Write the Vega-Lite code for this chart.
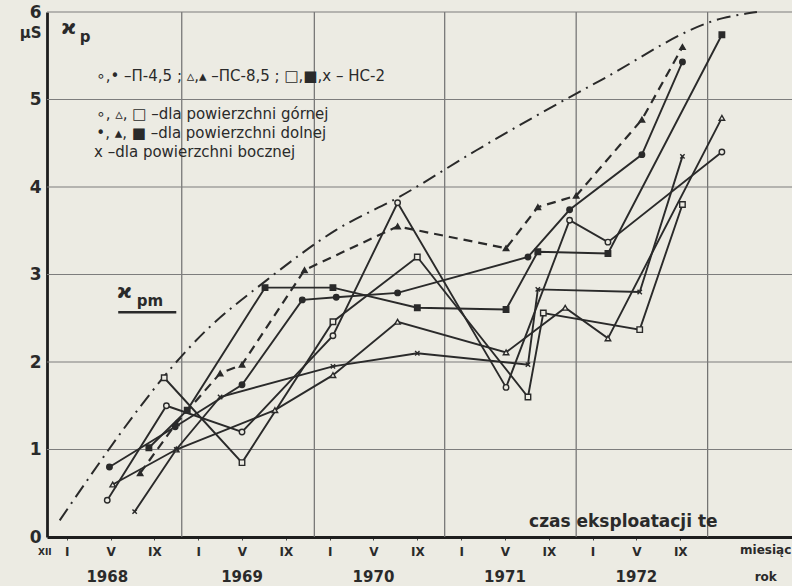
{
  "$schema": "https://vega.github.io/schema/vega-lite/v6.json",
  "width": 745,
  "height": 525,
  "autosize": "none",
  "padding": {"left": 47, "top": 12, "right": 0, "bottom": 49},
  "background": "#ecebe3",
  "config": {"view": {"stroke": null}, "font": "DejaVu Sans"},
  "datasets": {
    "series": [
      {"s": "o", "m": 3.7, "v": 0.42}, {"s": "o", "m": 9.1, "v": 1.5}, {"s": "o", "m": 16, "v": 1.2}, {"s": "o", "m": 24.3, "v": 2.3}, {"s": "o", "m": 30.2, "v": 3.82}, {"s": "o", "m": 40.1, "v": 1.71}, {"s": "o", "m": 45.9, "v": 3.62}, {"s": "o", "m": 49.4, "v": 3.37}, {"s": "o", "m": 59.8, "v": 4.4},
      {"s": "of", "m": 3.9, "v": 0.8}, {"s": "of", "m": 9.9, "v": 1.26}, {"s": "of", "m": 16, "v": 1.74}, {"s": "of", "m": 21.5, "v": 2.71}, {"s": "of", "m": 24.6, "v": 2.74}, {"s": "of", "m": 30.2, "v": 2.79}, {"s": "of", "m": 42.1, "v": 3.2}, {"s": "of", "m": 45.9, "v": 3.74}, {"s": "of", "m": 52.5, "v": 4.37}, {"s": "of", "m": 56.2, "v": 5.43},
      {"s": "t", "m": 4.2, "v": 0.6}, {"s": "t", "m": 10, "v": 1.0}, {"s": "t", "m": 19, "v": 1.45}, {"s": "t", "m": 24.3, "v": 1.85}, {"s": "t", "m": 30.2, "v": 2.46}, {"s": "t", "m": 40.1, "v": 2.11}, {"s": "t", "m": 45.5, "v": 2.62}, {"s": "t", "m": 49.4, "v": 2.27}, {"s": "t", "m": 59.8, "v": 4.79},
      {"s": "tf", "m": 6.7, "v": 0.73}, {"s": "tf", "m": 10, "v": 1.3}, {"s": "tf", "m": 14, "v": 1.87}, {"s": "tf", "m": 16, "v": 1.97}, {"s": "tf", "m": 21.7, "v": 3.05}, {"s": "tf", "m": 30.2, "v": 3.55}, {"s": "tf", "m": 40.1, "v": 3.3}, {"s": "tf", "m": 43, "v": 3.77}, {"s": "tf", "m": 46.5, "v": 3.9}, {"s": "tf", "m": 52.5, "v": 4.77}, {"s": "tf", "m": 56.2, "v": 5.6},
      {"s": "q", "m": 8.9, "v": 1.82}, {"s": "q", "m": 16, "v": 0.85}, {"s": "q", "m": 24.3, "v": 2.46}, {"s": "q", "m": 32, "v": 3.2}, {"s": "q", "m": 42.1, "v": 1.6}, {"s": "q", "m": 43.5, "v": 2.56}, {"s": "q", "m": 52.3, "v": 2.37}, {"s": "q", "m": 56.2, "v": 3.8},
      {"s": "qf", "m": 7.5, "v": 1.02}, {"s": "qf", "m": 11, "v": 1.45}, {"s": "qf", "m": 18.1, "v": 2.85}, {"s": "qf", "m": 24.3, "v": 2.85}, {"s": "qf", "m": 32, "v": 2.62}, {"s": "qf", "m": 40.1, "v": 2.6}, {"s": "qf", "m": 43, "v": 3.26}, {"s": "qf", "m": 49.4, "v": 3.24}, {"s": "qf", "m": 59.8, "v": 5.74},
      {"s": "x", "m": 6.2, "v": 0.29}, {"s": "x", "m": 10, "v": 1.0}, {"s": "x", "m": 14, "v": 1.6}, {"s": "x", "m": 24.3, "v": 1.95}, {"s": "x", "m": 32, "v": 2.1}, {"s": "x", "m": 42.1, "v": 1.97}, {"s": "x", "m": 43, "v": 2.83}, {"s": "x", "m": 52.3, "v": 2.8}, {"s": "x", "m": 56.2, "v": 4.35}
    ],
    "env": [
      {"m": -0.64, "v": 0.19}, {"m": 12.8, "v": 2.37}, {"m": 18.2, "v": 2.93}, {"m": 24.6, "v": 3.51}, {"m": 30.4, "v": 3.89}, {"m": 37.4, "v": 4.42}, {"m": 48.6, "v": 5.21}, {"m": 59.9, "v": 5.93}, {"m": 63, "v": 6.0}
    ],
    "vgrid": [{"m": 10.5}, {"m": 22.6}, {"m": 34.5}, {"m": 46.5}, {"m": 58.5}],
    "hgrid": [{"v": 1}, {"v": 2}, {"v": 3}, {"v": 4}, {"v": 5}, {"v": 6}],
    "legend": [
      {"m": 2.7, "v": 5.27, "t": "∘,• –П-4,5 ;  ▵,▴ –ПС-8,5 ;  □,■,x – НС-2"},
      {"m": 2.7, "v": 4.84, "t": "∘, ▵, □  –dla powierzchni górnej"},
      {"m": 2.7, "v": 4.62, "t": "•, ▴, ■  –dla powierzchni dolnej"},
      {"m": 2.5, "v": 4.40, "t": "x –dla powierzchni bocznej"}
    ],
    "years": [
      {"m": 3.7, "t": "1968"}, {"m": 16, "t": "1969"}, {"m": 28, "t": "1970"}, {"m": 40, "t": "1971"}, {"m": 52, "t": "1972"}
    ]
  },
  "layer": [
    {
      "data": {"name": "vgrid"},
      "mark": {"type": "rule", "color": "#6f6f6f", "strokeWidth": 1.2},
      "encoding": {"x": {"field": "m", "type": "quantitative", "scale": {"domain": [-1.8, 66.2], "nice": false, "zero": false},
        "axis": {"values": [0, 4, 8, 12, 16, 20, 24, 28, 32, 36, 40, 44, 48, 52, 56], "labelExpr": "datum.value % 12 == 0 ? 'I' : (datum.value % 12 == 4 ? 'V' : 'IX')", "title": null, "grid": false, "domainColor": "#1e1e1e", "domainWidth": 2.8, "tickColor": "#444", "tickSize": 3, "labelFontSize": 12, "labelFontWeight": "bold", "labelColor": "#2a2a2a", "labelPadding": 6}}}
    },
    {
      "data": {"name": "hgrid"},
      "mark": {"type": "rule", "color": "#7d7d7d", "strokeWidth": 1.2},
      "encoding": {"y": {"field": "v", "type": "quantitative", "scale": {"domain": [0, 6], "nice": false},
        "axis": {"values": [0, 1, 2, 3, 4, 5, 6], "format": "d", "title": null, "grid": false, "ticks": false, "domainColor": "#1e1e1e", "domainWidth": 2.8, "labelFontSize": 17, "labelFontWeight": "bold", "labelColor": "#2a2a2a", "labelPadding": 6}}}
    },
    {
      "data": {"name": "env"},
      "mark": {"type": "line", "color": "#2a2a2a", "strokeWidth": 2, "strokeDash": [14, 6, 2, 6], "interpolate": "monotone"},
      "encoding": {"x": {"field": "m", "type": "quantitative"}, "y": {"field": "v", "type": "quantitative"}}
    },
    {
      "data": {"name": "series"},
      "transform": [{"filter": "datum.s != 'tf'"}],
      "mark": {"type": "line", "color": "#2a2a2a", "strokeWidth": 1.9},
      "encoding": {"x": {"field": "m", "type": "quantitative"}, "y": {"field": "v", "type": "quantitative"}, "detail": {"field": "s"}}
    },
    {
      "data": {"name": "series"},
      "transform": [{"filter": "datum.s == 'tf'"}],
      "mark": {"type": "line", "color": "#2a2a2a", "strokeWidth": 2.2, "strokeDash": [9, 6]},
      "encoding": {"x": {"field": "m", "type": "quantitative"}, "y": {"field": "v", "type": "quantitative"}, "detail": {"field": "s"}}
    },
    {
      "data": {"name": "series"},
      "mark": {"type": "point", "size": 30, "strokeWidth": 1.4, "stroke": "#2a2a2a", "opacity": 1},
      "encoding": {
        "x": {"field": "m", "type": "quantitative"}, "y": {"field": "v", "type": "quantitative"},
        "shape": {"field": "s", "legend": null, "scale": {"domain": ["o", "of", "t", "tf", "q", "qf", "x"], "range": ["circle", "circle", "triangle-up", "triangle-up", "square", "square", "M-0.8,-0.8L0.8,0.8M-0.8,0.8L0.8,-0.8"]}},
        "fill": {"field": "s", "legend": null, "scale": {"domain": ["o", "of", "t", "tf", "q", "qf", "x"], "range": ["#ecebe3", "#2a2a2a", "#ecebe3", "#2a2a2a", "#ecebe3", "#2a2a2a", "#2a2a2a"]}}
      }
    },
    {
      "data": {"name": "legend"},
      "mark": {"type": "text", "align": "left", "baseline": "middle", "fontSize": 15, "color": "#2a2a2a"},
      "encoding": {"x": {"field": "m", "type": "quantitative"}, "y": {"field": "v", "type": "quantitative"}, "text": {"field": "t"}}
    },
    {
      "data": {"values": [{"m": 4.6, "v": 2.8, "t": "ϰ"}, {"m": -0.5, "v": 5.82, "t": "ϰ"}]},
      "mark": {"type": "text", "align": "left", "baseline": "middle", "fontSize": 20, "fontWeight": "bold", "color": "#2a2a2a"},
      "encoding": {"x": {"field": "m", "type": "quantitative"}, "y": {"field": "v", "type": "quantitative"}, "text": {"field": "t"}}
    },
    {
      "data": {"values": [{"m": 6.4, "v": 2.7, "t": "pm"}, {"m": 1.2, "v": 5.72, "t": "p"}]},
      "mark": {"type": "text", "align": "left", "baseline": "middle", "fontSize": 15, "fontWeight": "bold", "color": "#2a2a2a"},
      "encoding": {"x": {"field": "m", "type": "quantitative"}, "y": {"field": "v", "type": "quantitative"}, "text": {"field": "t"}}
    },
    {
      "data": {"values": [{"a": 4.7, "b": 10.0, "v": 2.57}]},
      "mark": {"type": "rule", "color": "#2a2a2a", "strokeWidth": 2.5},
      "encoding": {"x": {"field": "a", "type": "quantitative"}, "x2": {"field": "b"}, "y": {"field": "v", "type": "quantitative"}}
    },
    {
      "data": {"values": [{"m": -2.3, "v": 5.76, "t": "µS"}]},
      "mark": {"type": "text", "align": "right", "baseline": "middle", "fontSize": 15, "fontWeight": "bold", "color": "#2a2a2a"},
      "encoding": {"x": {"field": "m", "type": "quantitative"}, "y": {"field": "v", "type": "quantitative"}, "text": {"field": "t"}}
    },
    {
      "data": {"values": [{"m": 42.2, "v": 0.17, "t": "czas eksploatacji te"}]},
      "mark": {"type": "text", "align": "left", "baseline": "middle", "fontSize": 17, "fontWeight": "bold", "color": "#2a2a2a"},
      "encoding": {"x": {"field": "m", "type": "quantitative"}, "y": {"field": "v", "type": "quantitative"}, "text": {"field": "t"}}
    },
    {
      "data": {"name": "years"},
      "mark": {"type": "text", "align": "center", "baseline": "middle", "fontSize": 15, "fontWeight": "bold", "color": "#2a2a2a"},
      "encoding": {"x": {"field": "m", "type": "quantitative"}, "y": {"datum": -0.46}, "text": {"field": "t"}}
    },
    {
      "data": {"values": [{"m": 63.8, "v": -0.15, "t": "miesiąc"}, {"m": 63.8, "v": -0.46, "t": "rok"}]},
      "mark": {"type": "text", "align": "center", "baseline": "middle", "fontSize": 12, "fontWeight": "bold", "color": "#2a2a2a"},
      "encoding": {"x": {"field": "m", "type": "quantitative"}, "y": {"field": "v", "type": "quantitative"}, "text": {"field": "t"}}
    },
    {
      "data": {"values": [{"m": -2.0, "v": -0.17, "t": "XII"}]},
      "mark": {"type": "text", "align": "center", "baseline": "middle", "fontSize": 9, "fontWeight": "bold", "color": "#2a2a2a"},
      "encoding": {"x": {"field": "m", "type": "quantitative"}, "y": {"field": "v", "type": "quantitative"}, "text": {"field": "t"}}
    }
  ]
}
